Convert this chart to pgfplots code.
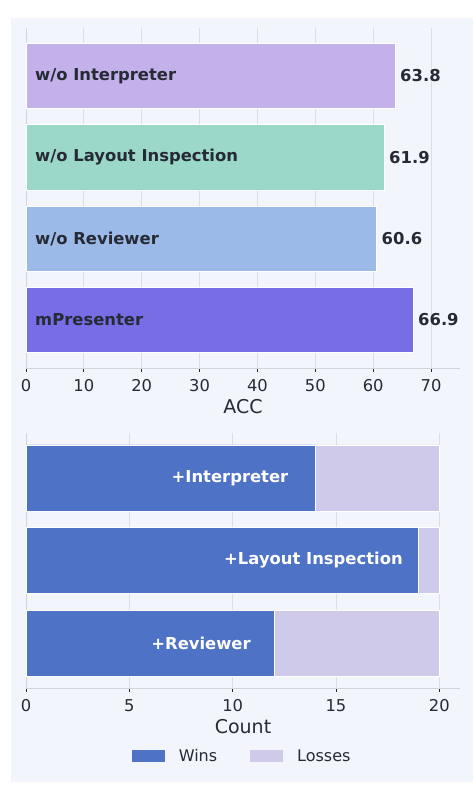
\documentclass[border=0pt]{standalone}
\usepackage{pgfplots}
\pgfplotsset{compat=1.18}
\usepackage{fontspec}
\setmainfont{DejaVu Sans}
\definecolor{panel}{HTML}{F2F5FC}
\definecolor{gridc}{HTML}{DCDDE6}
\definecolor{spine}{HTML}{D3D4DC}
\definecolor{textc}{HTML}{262A35}
\definecolor{cA}{HTML}{C4B0EA}
\definecolor{cB}{HTML}{9BD8C7}
\definecolor{cC}{HTML}{9BBAE8}
\definecolor{cD}{HTML}{776EE6}
\definecolor{wins}{HTML}{4E72C5}
\definecolor{losses}{HTML}{D0CAEA}
\newcommand\fs{\fontsize{16.3}{19.5}\selectfont}
\newcommand\fsb{\fontsize{16.4}{19.5}\selectfont\bfseries}
\newcommand\fl{\fontsize{19}{22}\selectfont}
\newcommand\fleg{\fontsize{16}{19}\selectfont}
\pgfplotsset{
  common/.style={
    scale only axis, anchor=south west, width=434pt,
    axis x line*=bottom, axis y line*=left,
    axis line style={draw=spine, line width=0.9pt},
    xmajorgrids, grid style={draw=gridc, line width=0.9pt},
    tick align=outside, major tick length=4pt,
    tick style={draw=textc, line width=0.8pt},
    ytick=\empty,
    ticklabel style={font=\fs, text=textc},
    xticklabel style={yshift=-4pt},
    /pgf/number format/assume math mode=true,
    every axis x label/.style={at={(axis description cs:0.5,0)}, anchor=center, yshift=-39pt, font=\fl, text=textc},
  }
}
\begin{document}
\begin{tikzpicture}
\path[use as bounding box, fill=white] (0pt,0pt) rectangle (473pt,788pt);
\fill[panel] (11pt,6pt) rectangle (473pt,770pt);
\begin{axis}[common,
  at={(26pt,420pt)}, height=340pt,
  xbar, bar width=0.8, bar shift=0pt,
  xmin=0, xmax=75, ymin=-0.59, ymax=3.59,
  xtick={0,10,...,70},
  xlabel={ACC},
  point meta=x,
  nodes near coords,
  nodes near coords style={anchor=west, font=\fsb, text=textc, inner sep=0pt, xshift=4.7pt},
]
\addplot[fill=cD, draw=white, line width=0.7pt] coordinates {(66.9,0)};
\addplot[fill=cC, draw=white, line width=0.7pt] coordinates {(60.6,1)};
\addplot[fill=cB, draw=white, line width=0.7pt] coordinates {(61.9,2)};
\addplot[fill=cA, draw=white, line width=0.7pt] coordinates {(63.8,3)};
\node[anchor=west, font=\fsb, text=textc, inner sep=0pt, xshift=9pt] at (axis cs:0,3) {w/o Interpreter};
\node[anchor=west, font=\fsb, text=textc, inner sep=0pt, xshift=9pt] at (axis cs:0,2) {w/o Layout Inspection};
\node[anchor=west, font=\fsb, text=textc, inner sep=0pt, xshift=9pt] at (axis cs:0,1) {w/o Reviewer};
\node[anchor=west, font=\fsb, text=textc, inner sep=0pt, xshift=9pt] at (axis cs:0,0) {mPresenter};
\end{axis}
\begin{axis}[common,
  at={(26pt,100pt)}, height=255pt,
  xbar stacked, bar width=0.8,
  xmin=0, xmax=21, ymin=-0.545, ymax=2.545,
  xtick={0,5,...,20},
  xlabel={Count},
  legend style={at={(axis description cs:0.498,-0.267)}, anchor=center, draw=none, fill=none,
    legend columns=2, font=\fleg, text=textc,
    /tikz/every odd column/.append style={column sep=12pt},
    /tikz/every even column/.append style={column sep=31pt}},
  legend image code/.code={\fill[#1, draw=none] (0pt,-6pt) rectangle (33pt,6pt);},
  legend cell align=left,
]
\addplot[fill=wins, draw=white, line width=0.6pt] coordinates {(12,0) (19,1) (14,2)};
\addplot[fill=losses, draw=white, line width=0.6pt] coordinates {(8,0) (1,1) (6,2)};
\legend{Wins, Losses}
\coordinate (L1) at (axis cs:9.87,2);
\coordinate (L2) at (axis cs:13.91,1);
\coordinate (L3) at (axis cs:8.47,0);
\end{axis}
\node[font=\fsb, text=white, inner sep=0pt] at (L1) {+Interpreter};
\node[font=\fsb, text=white, inner sep=0pt] at (L2) {+Layout Inspection};
\node[font=\fsb, text=white, inner sep=0pt] at (L3) {+Reviewer};
\end{tikzpicture}
\end{document}
